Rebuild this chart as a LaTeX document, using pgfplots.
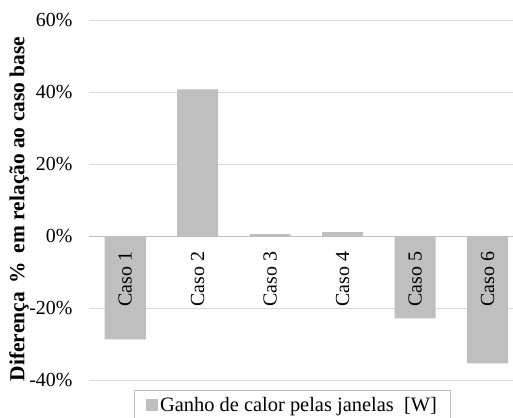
\documentclass[border=0pt]{standalone}
\usepackage{pgfplots}
\pgfplotsset{compat=1.18}
\usepackage{fontspec}
\setmainfont{Liberation Serif}

\definecolor{barfill}{HTML}{BFBFBF}
\definecolor{gridcol}{HTML}{D9D9D9}
\definecolor{zerocol}{HTML}{BFBFBF}
\definecolor{legframe}{HTML}{BFBFBF}

% grid below the bars, axis line and category names above them
\pgfplotsset{
  layers/bars between/.define layer set={
    axis background,main,axis foreground
  }{
    grid style={/pgfplots/on layer=axis background},
    axis line style={/pgfplots/on layer=axis foreground},
    tick label style={/pgfplots/on layer=axis foreground},
    label style={/pgfplots/on layer=axis foreground},
    legend style={/pgfplots/on layer=axis foreground},
  },
}

\begin{document}
\begin{tikzpicture}
\begin{axis}[
  set layers=bars between,
  at={(0,0)}, anchor=south west,
  scale only axis,
  width=424bp, height=360bp,
  font=\fontsize{20}{24}\selectfont,
  /pgf/number format/assume math mode=true,
  ybar, bar width=0.566, bar shift=0pt,
  xmin=-0.5, xmax=5.35,
  ymin=-40, ymax=60,
  ytick={-40,-20,0,20,40,60},
  yticklabel={\pgfmathprintnumber{\tick}\%},
  yticklabel style={xshift=-13bp},
  ymajorgrids,
  grid style={gridcol, line width=0.8pt},
  axis x line*=middle,
  axis y line*=left,
  x axis line style={zerocol, line width=1pt},
  y axis line style={draw=none},
  xtick=data,
  xticklabels={Caso 1,Caso 2,Caso 3,Caso 4,Caso 5,Caso 6},
  xticklabel style={rotate=90, anchor=east},
  xticklabel shift=8bp,
  tick style={draw=none},
  hide obscured y ticks=false,
  ylabel={\textbf{Diferença\, \%\, em relação ao caso base}},
  ylabel style={at={(axis description cs:-0.165,0.475)}, anchor=center, font=\fontsize{21.5}{24}\selectfont},
  legend style={at={(0.48,-0.028)}, anchor=north, draw=legframe, line width=0.8pt,
    inner xsep=12bp, inner ysep=5bp, font=\fontsize{20.5}{24}\selectfont},
  legend image code/.code={\fill[barfill] (0bp,-6bp) rectangle (12bp,6bp);},
]
\addplot[fill=barfill, draw=none] coordinates {
  (0,-28.7) (1,40.75) (2,0.5) (3,1.1) (4,-22.9) (5,-35.4)
};
\addlegendentry{Ganho de calor pelas janelas\ \ [W]}
\end{axis}
% page frame: the axis box plus the room around it
\pgfresetboundingbox
\path[use as bounding box] (-89bp,-38bp) rectangle (424bp,380bp);
\end{tikzpicture}
\end{document}
